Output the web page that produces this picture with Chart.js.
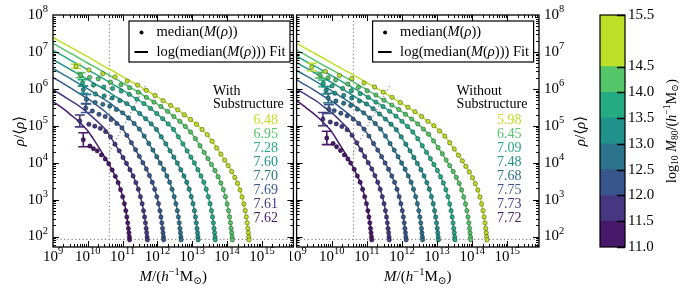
<!DOCTYPE html>
<html>
<head>
<meta charset="utf-8">
<script src="https://cdn.jsdelivr.net/npm/chart.js@4.4.1/dist/chart.umd.min.js"></script>
<style>
  html, body { margin: 0; padding: 0; background: #fff; }
  #wrap { position: relative; width: 687px; height: 295px; overflow: hidden; }
  canvas { position: absolute; top: 0; }
</style>
</head>
<body>
<div id="wrap">
  <canvas id="withSub" width="300" height="295" style="left:0px"></canvas>
  <canvas id="withoutSub" width="305" height="295" style="left:290px"></canvas>
  <canvas id="cbar" width="127" height="295" style="left:560px"></canvas>
</div>
<script>
// ---- data (log10 values) ----
// mass bins of the colour bar, log10 M80
const binEdges = [11.0, 11.5, 12.0, 12.5, 13.0, 13.5, 14.0, 14.5, 15.5];
const binColors = ['#48186a', '#453781', '#39568c', '#2c738e', '#21918c', '#25ab82', '#54c568', '#bddf26'];
const cbarTicks = [11.0, 11.5, 12.0, 12.5, 13.0, 13.5, 14.0, 14.5, 15.5];
const massTicks = [9, 10, 11, 12, 13, 14, 15];
const densTicks = [2, 3, 4, 5, 6, 7, 8];

// concentrations, lowest mass bin first
const concWith = [7.62, 7.61, 7.69, 7.70, 7.60, 7.28, 6.95, 6.48];
const concWithout = [7.72, 7.73, 7.75, 7.68, 7.48, 7.09, 6.45, 5.98];

// guide lines
const floorLevel = 1.92;
const resMass = 10.62;
const resLine = [[10.62, 4.28], [11.66, 6.10]];

// fits: [log M, log rho/<rho>] per bin, with substructure
const fitWith = [
  [[9,5.65],[9.15,5.56],[9.34,5.43],[9.52,5.29],[9.69,5.16],[9.85,5.01],[10.00,4.86],[10.14,4.67],[10.27,4.48],[10.39,4.30],[10.50,4.13],[10.60,3.97],[10.70,3.80],[10.79,3.63],[10.87,3.46],[10.94,3.27],[11.00,3.08],[11.05,2.89],[11.09,2.70],[11.12,2.53],[11.145,2.37],[11.165,2.22],[11.18,2.10],[11.192,1.99],[11.20,1.91]],
  [[9,5.98],[9.24,5.84],[9.46,5.71],[9.66,5.59],[9.85,5.46],[10.03,5.32],[10.20,5.18],[10.36,5.04],[10.51,4.89],[10.65,4.70],[10.78,4.50],[10.90,4.32],[11.01,4.14],[11.11,3.98],[11.21,3.81],[11.30,3.64],[11.38,3.46],[11.45,3.28],[11.51,3.08],[11.56,2.89],[11.60,2.70],[11.63,2.53],[11.655,2.37],[11.675,2.22],[11.69,2.10],[11.702,1.99],[11.71,1.91]],
  [[9,6.31],[9.23,6.18],[9.48,6.04],[9.71,5.90],[9.93,5.77],[10.13,5.65],[10.32,5.51],[10.50,5.38],[10.67,5.24],[10.83,5.09],[10.98,4.94],[11.12,4.74],[11.25,4.54],[11.37,4.35],[11.48,4.17],[11.58,4.00],[11.68,3.83],[11.77,3.65],[11.85,3.47],[11.92,3.28],[11.98,3.08],[12.03,2.89],[12.07,2.70],[12.10,2.53],[12.125,2.37],[12.145,2.22],[12.16,2.10],[12.172,1.99],[12.18,1.91]],
  [[9,6.55],[9.18,6.45],[9.48,6.29],[9.73,6.15],[9.98,6.01],[10.21,5.87],[10.43,5.74],[10.63,5.62],[10.82,5.48],[11.00,5.35],[11.17,5.21],[11.33,5.06],[11.48,4.91],[11.62,4.72],[11.75,4.52],[11.87,4.34],[11.98,4.16],[12.08,3.99],[12.18,3.82],[12.27,3.64],[12.35,3.47],[12.42,3.28],[12.48,3.08],[12.53,2.89],[12.57,2.70],[12.60,2.53],[12.625,2.37],[12.645,2.22],[12.66,2.10],[12.672,1.99],[12.68,1.91]],
  [[9,6.79],[9.32,6.62],[9.67,6.43],[9.97,6.27],[10.22,6.13],[10.47,5.99],[10.70,5.85],[10.92,5.72],[11.12,5.60],[11.31,5.47],[11.49,5.33],[11.66,5.19],[11.82,5.05],[11.97,4.90],[12.11,4.70],[12.24,4.51],[12.36,4.32],[12.47,4.15],[12.57,3.99],[12.67,3.81],[12.76,3.64],[12.84,3.47],[12.91,3.28],[12.97,3.08],[13.02,2.89],[13.06,2.70],[13.09,2.53],[13.115,2.37],[13.135,2.22],[13.15,2.10],[13.162,1.99],[13.17,1.91]],
  [[9,7.05],[9.46,6.80],[9.81,6.62],[10.16,6.43],[10.46,6.27],[10.71,6.13],[10.96,5.99],[11.19,5.85],[11.41,5.72],[11.61,5.60],[11.80,5.47],[11.98,5.33],[12.15,5.19],[12.31,5.05],[12.46,4.90],[12.60,4.70],[12.73,4.51],[12.85,4.32],[12.96,4.15],[13.06,3.99],[13.16,3.81],[13.25,3.64],[13.33,3.47],[13.40,3.28],[13.46,3.08],[13.51,2.89],[13.55,2.70],[13.58,2.53],[13.605,2.37],[13.625,2.22],[13.64,2.10],[13.652,1.99],[13.66,1.91]],
  [[9,7.23],[9.15,7.15],[9.55,6.94],[9.95,6.72],[10.30,6.54],[10.65,6.35],[10.95,6.19],[11.20,6.05],[11.45,5.91],[11.68,5.77],[11.90,5.64],[12.10,5.52],[12.29,5.39],[12.47,5.25],[12.64,5.12],[12.80,4.98],[12.95,4.83],[13.09,4.65],[13.22,4.46],[13.34,4.28],[13.45,4.11],[13.55,3.95],[13.65,3.79],[13.74,3.62],[13.82,3.45],[13.89,3.27],[13.95,3.08],[14.00,2.88],[14.04,2.70],[14.07,2.53],[14.095,2.37],[14.115,2.22],[14.13,2.10],[14.142,1.99],[14.15,1.91]],
  [[9,7.39],[9.63,7.06],[10.03,6.85],[10.43,6.63],[10.78,6.45],[11.13,6.26],[11.43,6.10],[11.68,5.96],[11.93,5.82],[12.16,5.68],[12.38,5.55],[12.58,5.43],[12.77,5.30],[12.95,5.17],[13.12,5.04],[13.28,4.90],[13.43,4.76],[13.57,4.58],[13.70,4.40],[13.82,4.23],[13.93,4.07],[14.03,3.92],[14.13,3.76],[14.22,3.60],[14.30,3.44],[14.37,3.26],[14.43,3.07],[14.48,2.88],[14.52,2.70],[14.55,2.53],[14.575,2.37],[14.595,2.22],[14.61,2.10],[14.622,1.99],[14.63,1.91]]
];

// median points, with substructure
const dotsWith = [
  [[9.87,4.62],[10.06,4.45],[10.16,4.38],[10.27,4.32],[10.39,4.21],[10.50,4.10],[10.60,3.97],[10.70,3.80],[10.79,3.63],[10.87,3.46],[10.94,3.27],[11.00,3.08],[11.05,2.89],[11.09,2.70],[11.12,2.53],[11.145,2.37],[11.165,2.22],[11.18,2.10],[11.192,1.99],[11.20,1.91]],
  [[9.77,5.13],[10.03,5.04],[10.20,4.99],[10.36,4.93],[10.51,4.84],[10.65,4.70],[10.78,4.50],[10.90,4.32],[11.01,4.14],[11.11,3.98],[11.21,3.81],[11.30,3.64],[11.38,3.46],[11.45,3.28],[11.51,3.08],[11.56,2.89],[11.60,2.70],[11.63,2.53],[11.655,2.37],[11.675,2.22],[11.69,2.10],[11.702,1.99],[11.71,1.91]],
  [[9.94,5.48],[10.13,5.40],[10.32,5.31],[10.50,5.25],[10.67,5.17],[10.83,5.06],[10.98,4.94],[11.12,4.74],[11.25,4.54],[11.37,4.35],[11.48,4.17],[11.58,4.00],[11.68,3.83],[11.77,3.65],[11.85,3.47],[11.92,3.28],[11.98,3.08],[12.03,2.89],[12.07,2.70],[12.10,2.53],[12.125,2.37],[12.145,2.22],[12.16,2.10],[12.172,1.99],[12.18,1.91]],
  [[9.96,5.72],[10.21,5.63],[10.43,5.58],[10.63,5.53],[10.82,5.44],[11.00,5.35],[11.17,5.21],[11.33,5.06],[11.48,4.91],[11.62,4.72],[11.75,4.52],[11.87,4.34],[11.98,4.16],[12.08,3.99],[12.18,3.82],[12.27,3.64],[12.35,3.47],[12.42,3.28],[12.48,3.08],[12.53,2.89],[12.57,2.70],[12.60,2.53],[12.625,2.37],[12.645,2.22],[12.66,2.10],[12.672,1.99],[12.68,1.91]],
  [[9.87,5.98],[10.22,5.86],[10.47,5.81],[10.70,5.75],[10.92,5.68],[11.12,5.60],[11.31,5.47],[11.49,5.33],[11.66,5.19],[11.82,5.05],[11.97,4.90],[12.11,4.70],[12.24,4.51],[12.36,4.32],[12.47,4.15],[12.57,3.99],[12.67,3.81],[12.76,3.64],[12.84,3.47],[12.91,3.28],[12.97,3.08],[13.02,2.89],[13.06,2.70],[13.09,2.53],[13.115,2.37],[13.135,2.22],[13.15,2.10],[13.162,1.99],[13.17,1.91]],
  [[9.85,6.16],[10.16,6.10],[10.46,6.05],[10.71,6.01],[10.96,5.94],[11.19,5.85],[11.41,5.72],[11.61,5.60],[11.80,5.47],[11.98,5.33],[12.15,5.19],[12.31,5.05],[12.46,4.90],[12.60,4.70],[12.73,4.51],[12.85,4.32],[12.96,4.15],[13.06,3.99],[13.16,3.81],[13.25,3.64],[13.33,3.47],[13.40,3.28],[13.46,3.08],[13.51,2.89],[13.55,2.70],[13.58,2.53],[13.605,2.37],[13.625,2.22],[13.64,2.10],[13.652,1.99],[13.66,1.91]],
  [[9.79,6.37],[10.05,6.31],[10.30,6.27],[10.65,6.18],[10.95,6.11],[11.20,6.03],[11.45,5.91],[11.68,5.77],[11.90,5.64],[12.10,5.52],[12.29,5.39],[12.47,5.25],[12.64,5.12],[12.80,4.98],[12.95,4.83],[13.09,4.65],[13.22,4.46],[13.34,4.28],[13.45,4.11],[13.55,3.95],[13.65,3.79],[13.74,3.62],[13.82,3.45],[13.89,3.27],[13.95,3.08],[14.00,2.88],[14.04,2.70],[14.07,2.53],[14.095,2.37],[14.115,2.22],[14.13,2.10],[14.142,1.99],[14.15,1.91]],
  [[9.66,6.61],[10.03,6.51],[10.43,6.41],[10.78,6.32],[11.13,6.21],[11.43,6.10],[11.68,5.96],[11.93,5.82],[12.16,5.68],[12.38,5.55],[12.58,5.43],[12.77,5.30],[12.95,5.17],[13.12,5.04],[13.28,4.90],[13.43,4.76],[13.57,4.58],[13.70,4.40],[13.82,4.23],[13.93,4.07],[14.03,3.92],[14.13,3.76],[14.22,3.60],[14.30,3.44],[14.37,3.26],[14.43,3.07],[14.48,2.88],[14.52,2.70],[14.55,2.53],[14.575,2.37],[14.595,2.22],[14.61,2.10],[14.622,1.99],[14.63,1.91]]
];

// error bars on the innermost point: [log M, low, high]
const errWith = [[9.87,4.43,4.81],[9.77,4.97,5.29],[9.94,5.36,5.60],[9.96,5.59,5.85],[9.87,5.88,6.08],[9.85,6.07,6.25],[9.79,6.30,6.44],[9.66,6.55,6.67]];

// fits, without substructure
const fitWithout = [
  [[9,5.67],[9.09,5.62],[9.28,5.48],[9.46,5.35],[9.63,5.21],[9.79,5.06],[9.94,4.91],[10.08,4.72],[10.21,4.52],[10.33,4.34],[10.44,4.16],[10.54,3.99],[10.64,3.82],[10.73,3.64],[10.81,3.47],[10.88,3.28],[10.94,3.08],[10.99,2.89],[11.03,2.70],[11.06,2.53],[11.085,2.37],[11.105,2.22],[11.12,2.10],[11.132,1.99],[11.14,1.91]],
  [[9,6.00],[9.17,5.90],[9.39,5.77],[9.59,5.65],[9.78,5.51],[9.96,5.38],[10.13,5.24],[10.29,5.09],[10.44,4.94],[10.58,4.74],[10.71,4.54],[10.83,4.35],[10.94,4.17],[11.04,4.00],[11.14,3.83],[11.23,3.65],[11.31,3.47],[11.38,3.28],[11.44,3.08],[11.49,2.89],[11.53,2.70],[11.56,2.53],[11.585,2.37],[11.605,2.22],[11.62,2.10],[11.632,1.99],[11.64,1.91]],
  [[9,6.25],[9.17,6.15],[9.42,6.01],[9.65,5.87],[9.87,5.74],[10.07,5.62],[10.26,5.48],[10.44,5.35],[10.61,5.21],[10.77,5.06],[10.92,4.91],[11.06,4.72],[11.19,4.52],[11.31,4.34],[11.42,4.16],[11.52,3.99],[11.62,3.82],[11.71,3.64],[11.79,3.47],[11.86,3.28],[11.92,3.08],[11.97,2.89],[12.01,2.70],[12.04,2.53],[12.065,2.37],[12.085,2.22],[12.10,2.10],[12.112,1.99],[12.12,1.91]],
  [[9,6.50],[9.09,6.45],[9.39,6.29],[9.64,6.15],[9.89,6.01],[10.12,5.87],[10.34,5.74],[10.54,5.62],[10.73,5.48],[10.91,5.35],[11.08,5.21],[11.24,5.06],[11.39,4.91],[11.53,4.72],[11.66,4.52],[11.78,4.34],[11.89,4.16],[11.99,3.99],[12.09,3.82],[12.18,3.64],[12.26,3.47],[12.33,3.28],[12.39,3.08],[12.44,2.89],[12.48,2.70],[12.51,2.53],[12.535,2.37],[12.555,2.22],[12.57,2.10],[12.582,1.99],[12.59,1.91]],
  [[9,6.71],[9.19,6.61],[9.54,6.42],[9.84,6.26],[10.09,6.12],[10.34,5.98],[10.57,5.84],[10.79,5.71],[10.99,5.59],[11.18,5.46],[11.36,5.32],[11.53,5.18],[11.69,5.04],[11.84,4.89],[11.98,4.70],[12.11,4.50],[12.23,4.32],[12.34,4.14],[12.44,3.98],[12.54,3.81],[12.63,3.64],[12.71,3.46],[12.78,3.28],[12.84,3.08],[12.89,2.89],[12.93,2.70],[12.96,2.53],[12.985,2.37],[13.005,2.22],[13.02,2.10],[13.032,1.99],[13.04,1.91]],
  [[9,6.89],[9.31,6.72],[9.66,6.54],[10.01,6.35],[10.31,6.19],[10.56,6.05],[10.81,5.91],[11.04,5.77],[11.26,5.64],[11.46,5.52],[11.65,5.39],[11.83,5.26],[12.00,5.12],[12.16,4.98],[12.31,4.83],[12.45,4.65],[12.58,4.46],[12.70,4.28],[12.81,4.11],[12.91,3.95],[13.01,3.79],[13.10,3.62],[13.18,3.45],[13.25,3.27],[13.31,3.08],[13.36,2.88],[13.40,2.70],[13.43,2.53],[13.455,2.37],[13.475,2.22],[13.49,2.10],[13.502,1.99],[13.51,1.91]],
  [[9,7.05],[9.36,6.86],[9.76,6.64],[10.11,6.46],[10.46,6.27],[10.76,6.11],[11.01,5.97],[11.26,5.83],[11.49,5.69],[11.71,5.56],[11.91,5.44],[12.10,5.31],[12.28,5.18],[12.45,5.05],[12.61,4.91],[12.76,4.77],[12.90,4.59],[13.03,4.41],[13.15,4.24],[13.26,4.07],[13.36,3.92],[13.46,3.76],[13.55,3.60],[13.63,3.44],[13.70,3.26],[13.76,3.07],[13.81,2.88],[13.85,2.70],[13.88,2.53],[13.905,2.37],[13.925,2.22],[13.94,2.10],[13.952,1.99],[13.96,1.91]],
  [[9,7.23],[9.42,7.01],[9.82,6.80],[10.22,6.58],[10.57,6.40],[10.92,6.21],[11.22,6.05],[11.47,5.91],[11.72,5.77],[11.95,5.63],[12.17,5.50],[12.37,5.38],[12.56,5.25],[12.74,5.12],[12.91,5.00],[13.07,4.86],[13.22,4.72],[13.36,4.54],[13.49,4.37],[13.61,4.20],[13.72,4.05],[13.82,3.90],[13.92,3.75],[14.01,3.59],[14.09,3.43],[14.16,3.26],[14.22,3.07],[14.27,2.88],[14.31,2.70],[14.34,2.53],[14.365,2.37],[14.385,2.22],[14.40,2.10],[14.412,1.99],[14.42,1.91]]
];

// median points, without substructure
const dotsWithout = [
  [[9.86,4.67],[10.04,4.52],[10.14,4.43],[10.25,4.33],[10.36,4.21],[10.46,4.10],[10.54,3.99],[10.64,3.82],[10.73,3.64],[10.81,3.47],[10.88,3.28],[10.94,3.08],[10.99,2.89],[11.03,2.70],[11.06,2.53],[11.085,2.37],[11.105,2.22],[11.12,2.10],[11.132,1.99],[11.14,1.91]],
  [[9.75,5.18],[9.96,5.10],[10.13,5.05],[10.29,4.98],[10.44,4.89],[10.58,4.74],[10.71,4.54],[10.83,4.35],[10.94,4.17],[11.04,4.00],[11.14,3.83],[11.23,3.65],[11.31,3.47],[11.38,3.28],[11.44,3.08],[11.49,2.89],[11.53,2.70],[11.56,2.53],[11.585,2.37],[11.605,2.22],[11.62,2.10],[11.632,1.99],[11.64,1.91]],
  [[9.92,5.45],[10.07,5.41],[10.26,5.34],[10.44,5.27],[10.61,5.18],[10.77,5.06],[10.92,4.91],[11.06,4.72],[11.19,4.52],[11.31,4.34],[11.42,4.16],[11.52,3.99],[11.62,3.82],[11.71,3.64],[11.79,3.47],[11.86,3.28],[11.92,3.08],[11.97,2.89],[12.01,2.70],[12.04,2.53],[12.065,2.37],[12.085,2.22],[12.10,2.10],[12.112,1.99],[12.12,1.91]],
  [[9.90,5.75],[10.12,5.67],[10.34,5.61],[10.54,5.55],[10.73,5.45],[10.91,5.35],[11.08,5.21],[11.24,5.06],[11.39,4.91],[11.53,4.72],[11.66,4.52],[11.78,4.34],[11.89,4.16],[11.99,3.99],[12.09,3.82],[12.18,3.64],[12.26,3.47],[12.33,3.28],[12.39,3.08],[12.44,2.89],[12.48,2.70],[12.51,2.53],[12.535,2.37],[12.555,2.22],[12.57,2.10],[12.582,1.99],[12.59,1.91]],
  [[9.84,5.96],[10.09,5.88],[10.34,5.82],[10.57,5.75],[10.79,5.67],[10.99,5.59],[11.18,5.46],[11.36,5.32],[11.53,5.18],[11.69,5.04],[11.84,4.89],[11.98,4.70],[12.11,4.50],[12.23,4.32],[12.34,4.14],[12.44,3.98],[12.54,3.81],[12.63,3.64],[12.71,3.46],[12.78,3.28],[12.84,3.08],[12.89,2.89],[12.93,2.70],[12.96,2.53],[12.985,2.37],[13.005,2.22],[13.02,2.10],[13.032,1.99],[13.04,1.91]],
  [[9.76,6.15],[10.01,6.08],[10.31,6.01],[10.56,5.95],[10.81,5.87],[11.04,5.77],[11.26,5.64],[11.46,5.52],[11.65,5.39],[11.83,5.26],[12.00,5.12],[12.16,4.98],[12.31,4.83],[12.45,4.65],[12.58,4.46],[12.70,4.28],[12.81,4.11],[12.91,3.95],[13.01,3.79],[13.10,3.62],[13.18,3.45],[13.25,3.27],[13.31,3.08],[13.36,2.88],[13.40,2.70],[13.43,2.53],[13.455,2.37],[13.475,2.22],[13.49,2.10],[13.502,1.99],[13.51,1.91]],
  [[9.67,6.37],[9.90,6.30],[10.11,6.24],[10.46,6.13],[10.76,6.04],[11.01,5.95],[11.26,5.83],[11.49,5.69],[11.71,5.56],[11.91,5.44],[12.10,5.31],[12.28,5.18],[12.45,5.05],[12.61,4.91],[12.76,4.77],[12.90,4.59],[13.03,4.41],[13.15,4.24],[13.26,4.07],[13.36,3.92],[13.46,3.76],[13.55,3.60],[13.63,3.44],[13.70,3.26],[13.76,3.07],[13.81,2.88],[13.85,2.70],[13.88,2.53],[13.905,2.37],[13.925,2.22],[13.94,2.10],[13.952,1.99],[13.96,1.91]],
  [[9.43,6.59],[9.82,6.47],[10.22,6.36],[10.57,6.28],[10.92,6.16],[11.22,6.05],[11.47,5.91],[11.72,5.77],[11.95,5.63],[12.17,5.50],[12.37,5.38],[12.56,5.25],[12.74,5.12],[12.91,5.00],[13.07,4.86],[13.22,4.72],[13.36,4.54],[13.49,4.37],[13.61,4.20],[13.72,4.05],[13.82,3.90],[13.92,3.75],[14.01,3.59],[14.09,3.43],[14.16,3.26],[14.22,3.07],[14.27,2.88],[14.31,2.70],[14.34,2.53],[14.365,2.37],[14.385,2.22],[14.40,2.10],[14.412,1.99],[14.42,1.91]]
];

const errWithout = [[9.86,4.49,4.85],[9.75,5.00,5.36],[9.92,5.33,5.57],[9.90,5.62,5.88],[9.84,5.86,6.06],[9.76,6.06,6.24],[9.67,6.29,6.45],[9.43,6.49,6.69]];

// ---- drawing helpers ----
const SERIF = '"Liberation Serif", "DejaVu Serif", serif';
const P = v => Math.pow(10, v);
const pts = arr => arr.map(p => ({ x: P(p[0]), y: P(p[1]) }));

// text made of pieces: [text, style] with style letters i = italic, ^ = superscript, _ = subscript
function richText(ctx, parts, x, y, size, align, rot) {
  const fnt = st => (st.includes('i') ? 'italic ' : '') + (/[_^]/.test(st) ? size * 0.7 : size) + 'px ' + SERIF;
  let total = 0;
  const widths = parts.map(([t, st = '']) => {
    ctx.font = fnt(st);
    const w = ctx.measureText(t).width;
    total += w;
    return w;
  });
  ctx.save();
  ctx.translate(x, y);
  if (rot) ctx.rotate(rot);
  ctx.textAlign = 'left';
  ctx.textBaseline = 'middle';
  let cx = align === 'center' ? -total / 2 : (align === 'right' ? -total : 0);
  parts.forEach(([t, st = ''], k) => {
    ctx.font = fnt(st);
    const dy = st.includes('^') ? -size * 0.36 : (st.includes('_') ? size * 0.24 : 0);
    ctx.fillText(t, cx, dy);
    cx += widths[k];
  });
  ctx.restore();
}

const xTitle = [['M', 'i'], ['/('], ['h', 'i'], ['\u22121', '^'], ['M'], ['\u2299', '_'], [')']];
const yTitle = [['\u03c1', 'i'], ['/\u27e8'], ['\u03c1', 'i'], ['\u27e9']];
const legendDots = [['median('], ['M', 'i'], ['('], ['\u03c1', 'i'], ['))']];
const legendFit = [['log(median('], ['M', 'i'], ['('], ['\u03c1', 'i'], ['))) Fit']];
const cbarTitle = [['log'], ['10', '_'], [' '], ['M', 'i'], ['80', '_'], ['/('], ['h', 'i'], ['\u22121', '^'], ['M'], ['\u2299', '_'], [')']];

function panelDecor(side, label, concs) {
  return {
    id: 'panelDecor',
    afterDraw(chart) {
      const ctx = chart.ctx, a = chart.chartArea;
      const sx = chart.scales.x, sy = chart.scales.y;
      ctx.save();
      // inward ticks on all four sides
      ctx.strokeStyle = '#000';
      ctx.lineWidth = 1;
      ctx.beginPath();
      for (let e = 9; e <= 15; e++) {
        for (let k = 1; k <= 9; k++) {
          const v = k * P(e);
          if (v <= sx.min || v >= sx.max) continue;
          const px = Math.round(sx.getPixelForValue(v)) + 0.5;
          const len = k === 1 ? 6 : 3;
          ctx.moveTo(px, a.bottom); ctx.lineTo(px, a.bottom - len);
          ctx.moveTo(px, a.top); ctx.lineTo(px, a.top + len);
        }
      }
      for (let e = 1; e <= 8; e++) {
        for (let k = 1; k <= 9; k++) {
          const v = k * P(e);
          if (v <= sy.min || v >= sy.max) continue;
          const py = Math.round(sy.getPixelForValue(v)) + 0.5;
          const len = k === 1 ? 6 : 3;
          ctx.moveTo(a.left, py); ctx.lineTo(a.left + len, py);
          ctx.moveTo(a.right, py); ctx.lineTo(a.right - len, py);
        }
      }
      ctx.stroke();
      ctx.lineWidth = 1.3;
      ctx.strokeRect(a.left, a.top, a.right - a.left, a.bottom - a.top);

      // tick labels
      ctx.fillStyle = '#000';
      massTicks.forEach(e => {
        richText(ctx, [['10'], [String(e), '^']], sx.getPixelForValue(P(e)), a.bottom + 10, 15, 'center');
      });
      densTicks.forEach(e => {
        const py = sy.getPixelForValue(P(e));
        if (side === 'left') richText(ctx, [['10'], [String(e), '^']], a.left - 5, py, 15, 'right');
        else richText(ctx, [['10'], [String(e), '^']], a.right + 5, py, 15, 'left');
      });

      // axis titles
      const midY = (a.top + a.bottom) / 2;
      richText(ctx, xTitle, (a.left + a.right) / 2, 277.5, 15, 'center');
      if (side === 'left') richText(ctx, yTitle, a.left - 33, midY, 15, 'center', -Math.PI / 2);
      else richText(ctx, yTitle, a.right + 42, midY, 15, 'center', -Math.PI / 2);

      // legend box
      const bx = a.left + 76, by = 21, bw = 161, bh = 41;
      ctx.fillStyle = '#fff';
      ctx.fillRect(bx, by, bw, bh);
      ctx.lineWidth = 1.2;
      ctx.strokeRect(bx, by, bw, bh);
      ctx.fillStyle = '#000';
      ctx.beginPath();
      ctx.arc(bx + 12.5, by + 11.5, 2, 0, Math.PI * 2);
      ctx.fill();
      ctx.lineWidth = 2;
      ctx.beginPath();
      ctx.moveTo(bx + 5.5, by + 31); ctx.lineTo(bx + 19, by + 31);
      ctx.stroke();
      richText(ctx, legendDots, bx + 27.5, by + 11.5, 14.5, 'left');
      richText(ctx, legendFit, bx + 27.5, by + 31, 14.5, 'left');

      // panel label and concentrations
      label.forEach((t, k) => richText(ctx, [[t]], a.left + 160, 91 + 13 * k, 14, 'left'));
      concs.forEach((c, i) => {
        ctx.fillStyle = binColors[i];
        richText(ctx, [[c.toFixed(2)]], a.left + 225, 120 + 14.1 * (7 - i), 14, 'right');
      });
      ctx.restore();
    }
  };
}

function makePanel(id, pad, fits, dots, errs, decor) {
  const datasets = [];
  const guide = { showLine: true, pointRadius: 0, borderColor: '#8c8c8c', borderWidth: 1.2, borderDash: [1.3, 2.4], order: 3 };
  datasets.push(Object.assign({ data: [{ x: 1e9, y: P(floorLevel) }, { x: 8e15, y: P(floorLevel) }] }, guide));
  datasets.push(Object.assign({ data: [{ x: P(resMass), y: 50 }, { x: P(resMass), y: 1e8 }] }, guide));
  datasets.push(Object.assign({ data: pts(resLine) }, guide));
  for (let i = 0; i < 8; i++) {
    const c = binColors[i];
    datasets.push({
      data: pts(dots[i]), showLine: false, pointRadius: 2.2,
      pointBackgroundColor: c, pointBorderColor: 'rgba(0,0,0,0.6)', pointBorderWidth: 0.6, order: 0
    });
    const e = errs[i];
    datasets.push({
      data: [{ x: P(e[0]), y: P(e[1]) }, { x: P(e[0]), y: P(e[2]) }],
      showLine: true, borderColor: c, borderWidth: 1.6,
      pointStyle: 'line', pointRadius: 5, pointBorderColor: c, pointBorderWidth: 1.6, order: 1
    });
    datasets.push({
      data: pts(fits[i]), showLine: true, pointRadius: 0, borderColor: c, borderWidth: 1.5,
      cubicInterpolationMode: 'monotone', order: 2
    });
  }
  return new Chart(document.getElementById(id), {
    type: 'scatter',
    data: { datasets },
    options: {
      responsive: false, animation: false, devicePixelRatio: 1, events: [],
      layout: { padding: pad },
      plugins: { legend: { display: false }, tooltip: { enabled: false } },
      scales: {
        x: { type: 'logarithmic', min: 1e9, max: 8e15, display: false },
        y: { type: 'logarithmic', min: 52, max: 1e8, display: false }
      }
    },
    plugins: [decor]
  });
}

makePanel('withSub', { left: 53, right: 4, top: 15, bottom: 48 }, fitWith, dotsWith, errWith,
  panelDecor('left', ['With', 'Substructure'], concWith));
makePanel('withoutSub', { left: 6, right: 56, top: 15, bottom: 48 }, fitWithout, dotsWithout, errWithout,
  panelDecor('right', ['Without', 'Substructure'], concWithout));

// colour bar
const cbarDecor = {
  id: 'cbarDecor',
  afterDraw(chart) {
    const ctx = chart.ctx, a = chart.chartArea, sy = chart.scales.y;
    ctx.save();
    ctx.strokeStyle = '#000';
    ctx.lineWidth = 1.3;
    ctx.beginPath();
    cbarTicks.forEach(v => {
      const py = Math.round(sy.getPixelForValue(v)) + 0.5;
      ctx.moveTo(a.right, py); ctx.lineTo(a.right - 8, py);
    });
    ctx.stroke();
    ctx.lineWidth = 1.2;
    ctx.strokeRect(a.left, a.top, a.right - a.left, a.bottom - a.top);
    ctx.fillStyle = '#000';
    cbarTicks.forEach(v => richText(ctx, [[v.toFixed(1)]], a.right + 3, sy.getPixelForValue(v), 15, 'left'));
    richText(ctx, cbarTitle, 112, (a.top + a.bottom) / 2, 14, 'center', -Math.PI / 2);
    ctx.restore();
  }
};

new Chart(document.getElementById('cbar'), {
  type: 'bar',
  data: {
    labels: ['M80'],
    datasets: binColors.map((c, i) => ({
      data: [[binEdges[i], binEdges[i + 1]]], backgroundColor: c,
      borderWidth: 0, barPercentage: 1, categoryPercentage: 1
    }))
  },
  options: {
    responsive: false, animation: false, devicePixelRatio: 1, events: [],
    layout: { padding: { left: 40, right: 62, top: 15, bottom: 48 } },
    plugins: { legend: { display: false }, tooltip: { enabled: false } },
    scales: {
      x: { display: false, stacked: true },
      y: { display: false, min: 11, max: 15.5 }
    }
  },
  plugins: [cbarDecor]
});
</script>
</body>
</html>
